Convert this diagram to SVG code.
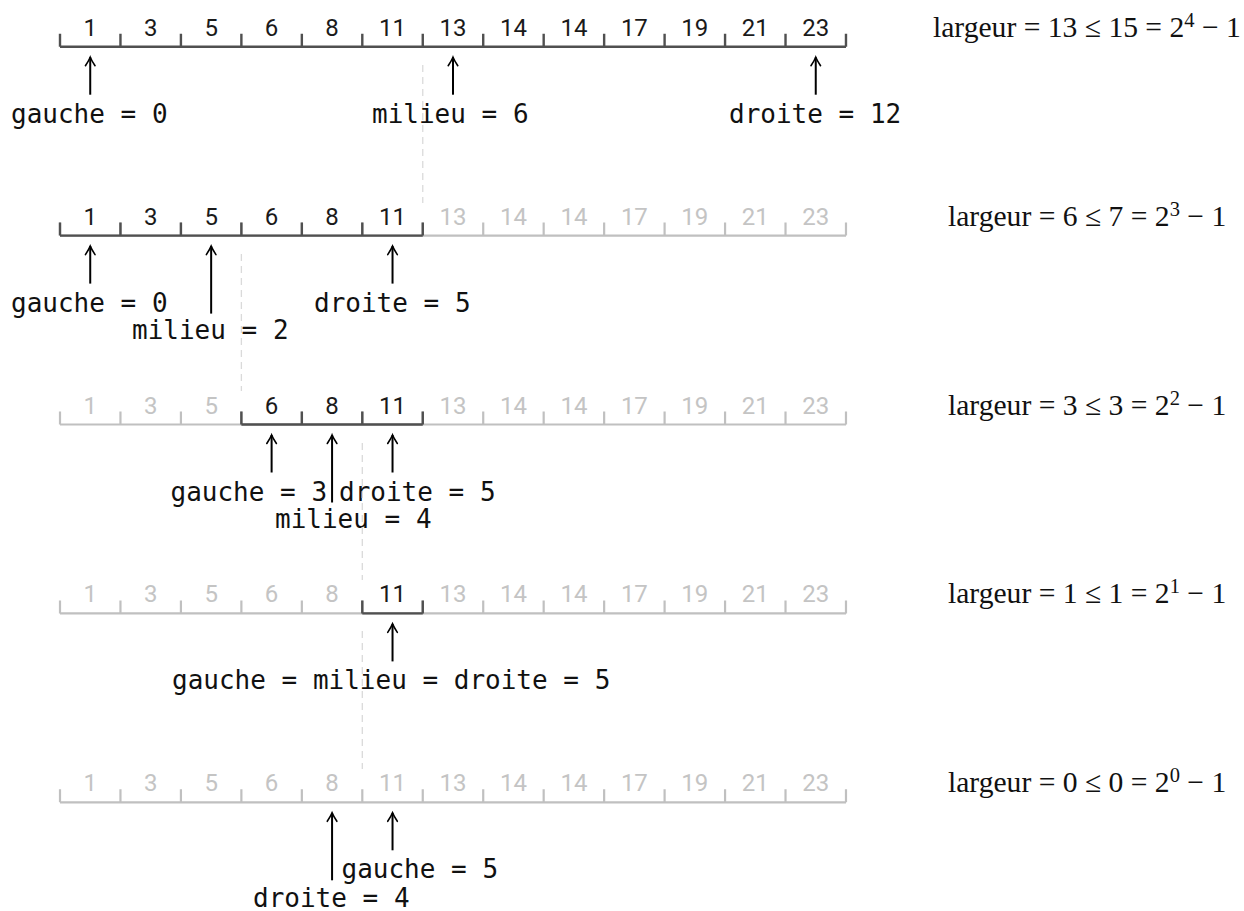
<svg xmlns="http://www.w3.org/2000/svg" xmlns:xlink="http://www.w3.org/1999/xlink" width="1244" height="911" viewBox="0 0 1244 911">
  <style>
    .num { font-family: Roboto, "Liberation Sans", sans-serif; font-size: 24px; text-anchor: middle; }
    .num.on { fill: #1a1a1a; }
    .num.off { fill: #c4c4c4; }
    .lbl { font-family: "DejaVu Sans Mono", "Liberation Mono", monospace; font-size: 26px; fill: #111; }
    .math { font-family: "Liberation Serif", "DejaVu Serif", serif; font-size: 29.6px; fill: #111; }
    .rule-off { fill: none; stroke: #c0c0c0; stroke-width: 2.2; }
    .rule-on { fill: none; stroke: #505050; stroke-width: 2.4; }
    .ptr { stroke: #000; stroke-width: 2; marker-end: url(#tip); }
    .guide { stroke: #dadada; stroke-width: 1.3; stroke-dasharray: 7 5; }
  </style>
  <defs>
    <marker id="tip" markerUnits="userSpaceOnUse" viewBox="-10 -6 12 12" refX="0" refY="0" markerWidth="12" markerHeight="12" orient="auto" overflow="visible">
      <path d="M-8.5,-4.8 Q-3,-1.2 0,0 Q-3,1.2 -8.5,4.8" fill="none" stroke="#000" stroke-width="1.6" stroke-linecap="round"/>
    </marker>
    <!-- full 13-cell ruler, greyed out -->
    <path id="ruler" class="rule-off" d="M60,0 H846 M60,-13 V0 M120.46,-13 V0 M180.92,-13 V0 M241.38,-13 V0 M301.84,-13 V0 M362.3,-13 V0 M422.76,-13 V0 M483.22,-13 V0 M543.68,-13 V0 M604.14,-13 V0 M664.6,-13 V0 M725.06,-13 V0 M785.52,-13 V0 M845.98,-13 V0"/>
  </defs>
  <rect width="1244" height="911" fill="#fff"/>

  <!-- step 1: whole array -->
  <g id="step1" transform="translate(0,46.7)">
    <path class="rule-on" d="M60,0 H846 M60,-13 V0 M120.46,-13 V0 M180.92,-13 V0 M241.38,-13 V0 M301.84,-13 V0 M362.3,-13 V0 M422.76,-13 V0 M483.22,-13 V0 M543.68,-13 V0 M604.14,-13 V0 M664.6,-13 V0 M725.06,-13 V0 M785.52,-13 V0 M845.98,-13 V0"/>
    <text class="num on" x="90.23" y="-11">1</text>
    <text class="num on" x="150.69" y="-11">3</text>
    <text class="num on" x="211.15" y="-11">5</text>
    <text class="num on" x="271.61" y="-11">6</text>
    <text class="num on" x="332.07" y="-11">8</text>
    <text class="num on" x="392.53" y="-11">11</text>
    <text class="num on" x="452.99" y="-11">13</text>
    <text class="num on" x="513.45" y="-11">14</text>
    <text class="num on" x="573.91" y="-11">14</text>
    <text class="num on" x="634.37" y="-11">17</text>
    <text class="num on" x="694.83" y="-11">19</text>
    <text class="num on" x="755.29" y="-11">21</text>
    <text class="num on" x="815.75" y="-11">23</text>
    <text class="math" x="933" y="-10">largeur = 13 ≤ 15 = 2<tspan dy="-10" font-size="20.5">4</tspan><tspan dy="10"> − 1</tspan></text>
  </g>

  <!-- step 2: cells 0..5 -->
  <g id="step2" transform="translate(0,235.6)">
    <use xlink:href="#ruler"/>
    <path class="rule-on" d="M60,0 H422.76 M60,-13 V0 M120.46,-13 V0 M180.92,-13 V0 M241.38,-13 V0 M301.84,-13 V0 M362.3,-13 V0 M422.76,-13 V0"/>
    <text class="num on" x="90.23" y="-11">1</text>
    <text class="num on" x="150.69" y="-11">3</text>
    <text class="num on" x="211.15" y="-11">5</text>
    <text class="num on" x="271.61" y="-11">6</text>
    <text class="num on" x="332.07" y="-11">8</text>
    <text class="num on" x="392.53" y="-11">11</text>
    <text class="num off" x="452.99" y="-11">13</text>
    <text class="num off" x="513.45" y="-11">14</text>
    <text class="num off" x="573.91" y="-11">14</text>
    <text class="num off" x="634.37" y="-11">17</text>
    <text class="num off" x="694.83" y="-11">19</text>
    <text class="num off" x="755.29" y="-11">21</text>
    <text class="num off" x="815.75" y="-11">23</text>
    <text class="math" x="948" y="-10">largeur = 6 ≤ 7 = 2<tspan dy="-10" font-size="20.5">3</tspan><tspan dy="10"> − 1</tspan></text>
  </g>

  <!-- step 3: cells 3..5 -->
  <g id="step3" transform="translate(0,424.5)">
    <use xlink:href="#ruler"/>
    <path class="rule-on" d="M241.38,0 H422.76 M241.38,-13 V0 M301.84,-13 V0 M362.3,-13 V0 M422.76,-13 V0"/>
    <text class="num off" x="90.23" y="-11">1</text>
    <text class="num off" x="150.69" y="-11">3</text>
    <text class="num off" x="211.15" y="-11">5</text>
    <text class="num on" x="271.61" y="-11">6</text>
    <text class="num on" x="332.07" y="-11">8</text>
    <text class="num on" x="392.53" y="-11">11</text>
    <text class="num off" x="452.99" y="-11">13</text>
    <text class="num off" x="513.45" y="-11">14</text>
    <text class="num off" x="573.91" y="-11">14</text>
    <text class="num off" x="634.37" y="-11">17</text>
    <text class="num off" x="694.83" y="-11">19</text>
    <text class="num off" x="755.29" y="-11">21</text>
    <text class="num off" x="815.75" y="-11">23</text>
    <text class="math" x="948" y="-10">largeur = 3 ≤ 3 = 2<tspan dy="-10" font-size="20.5">2</tspan><tspan dy="10"> − 1</tspan></text>
  </g>

  <!-- step 4: cell 5 only -->
  <g id="step4" transform="translate(0,613.4)">
    <use xlink:href="#ruler"/>
    <path class="rule-on" d="M362.3,0 H422.76 M362.3,-13 V0 M422.76,-13 V0"/>
    <text class="num off" x="90.23" y="-11">1</text>
    <text class="num off" x="150.69" y="-11">3</text>
    <text class="num off" x="211.15" y="-11">5</text>
    <text class="num off" x="271.61" y="-11">6</text>
    <text class="num off" x="332.07" y="-11">8</text>
    <text class="num on" x="392.53" y="-11">11</text>
    <text class="num off" x="452.99" y="-11">13</text>
    <text class="num off" x="513.45" y="-11">14</text>
    <text class="num off" x="573.91" y="-11">14</text>
    <text class="num off" x="634.37" y="-11">17</text>
    <text class="num off" x="694.83" y="-11">19</text>
    <text class="num off" x="755.29" y="-11">21</text>
    <text class="num off" x="815.75" y="-11">23</text>
    <text class="math" x="948" y="-10">largeur = 1 ≤ 1 = 2<tspan dy="-10" font-size="20.5">1</tspan><tspan dy="10"> − 1</tspan></text>
  </g>

  <!-- step 5: empty range -->
  <g id="step5" transform="translate(0,802.3)">
    <use xlink:href="#ruler"/>
    <text class="num off" x="90.23" y="-11">1</text>
    <text class="num off" x="150.69" y="-11">3</text>
    <text class="num off" x="211.15" y="-11">5</text>
    <text class="num off" x="271.61" y="-11">6</text>
    <text class="num off" x="332.07" y="-11">8</text>
    <text class="num off" x="392.53" y="-11">11</text>
    <text class="num off" x="452.99" y="-11">13</text>
    <text class="num off" x="513.45" y="-11">14</text>
    <text class="num off" x="573.91" y="-11">14</text>
    <text class="num off" x="634.37" y="-11">17</text>
    <text class="num off" x="694.83" y="-11">19</text>
    <text class="num off" x="755.29" y="-11">21</text>
    <text class="num off" x="815.75" y="-11">23</text>
    <text class="math" x="948" y="-10">largeur = 0 ≤ 0 = 2<tspan dy="-10" font-size="20.5">0</tspan><tspan dy="10"> − 1</tspan></text>
  </g>

  <!-- pointer labels -->
  <g id="labels1">
    <text class="lbl" x="11" y="122.7">gauche = 0</text>
    <text class="lbl" x="372" y="122.7">milieu = 6</text>
    <text class="lbl" x="729" y="122.7">droite = 12</text>
  </g>
  <g id="labels2">
    <text class="lbl" x="11" y="311.6">gauche = 0</text>
    <text class="lbl" x="132" y="339">milieu = 2</text>
    <text class="lbl" x="314" y="311.6">droite = 5</text>
  </g>
  <g id="labels3">
    <text class="lbl" x="170.5" y="500.5">gauche = 3</text>
    <text class="lbl" x="275" y="528">milieu = 4</text>
    <text class="lbl" x="339" y="500.5">droite = 5</text>
  </g>
  <g id="labels4">
    <text class="lbl" x="172" y="689.4">gauche = milieu = droite = 5</text>
  </g>
  <g id="labels5">
    <text class="lbl" x="341.5" y="878.3">gauche = 5</text>
    <text class="lbl" x="253" y="906.5">droite = 4</text>
  </g>

  <!-- arrows and split guides -->
  <g id="connectors">
    <line class="guide" x1="422.76" y1="65" x2="422.76" y2="203"/>
    <line class="guide" x1="241.38" y1="254" x2="241.38" y2="391"/>
    <line class="guide" x1="362.3" y1="443" x2="362.3" y2="580"/>
    <line class="guide" x1="362.3" y1="631" x2="362.3" y2="769"/>

    <line class="ptr" x1="90.23" y1="94.7" x2="90.23" y2="57.2"/>
    <line class="ptr" x1="452.99" y1="94.7" x2="452.99" y2="57.2"/>
    <line class="ptr" x1="815.75" y1="94.7" x2="815.75" y2="57.2"/>

    <line class="ptr" x1="90.23" y1="283.6" x2="90.23" y2="246.1"/>
    <line class="ptr" x1="211.15" y1="313.6" x2="211.15" y2="246.1"/>
    <line class="ptr" x1="392.53" y1="283.6" x2="392.53" y2="246.1"/>

    <line class="ptr" x1="271.61" y1="472.5" x2="271.61" y2="435"/>
    <line class="ptr" x1="332.07" y1="502.5" x2="332.07" y2="435"/>
    <line class="ptr" x1="392.53" y1="472.5" x2="392.53" y2="435"/>

    <line class="ptr" x1="392.53" y1="661.4" x2="392.53" y2="623.9"/>

    <line class="ptr" x1="332.07" y1="880.3" x2="332.07" y2="812.8"/>
    <line class="ptr" x1="392.53" y1="850.3" x2="392.53" y2="812.8"/>
  </g>
</svg>
